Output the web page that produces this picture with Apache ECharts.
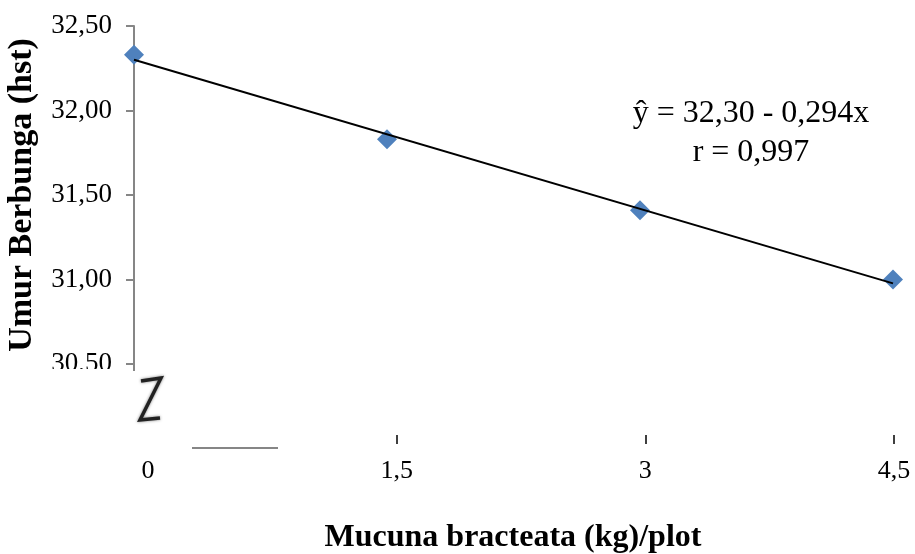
<!DOCTYPE html>
<html>
<head>
<meta charset="utf-8">
<script src="https://cdn.jsdelivr.net/npm/echarts@6/dist/echarts.min.js"></script>
<style>html,body{margin:0;padding:0;background:#fff;}#c{width:915px;height:554px;}</style>
</head>
<body>
<div id="c"></div>
<script>
const doses = [0, 1.5, 3, 4.5];
const flowering = [32.33, 31.83, 31.41, 31.00];
const trendIntercept = 32.30;
const trendSlope = -0.294;
const yTicks = [30.5, 31.0, 31.5, 32.0, 32.5];
const xTickLabels = ['0', '1,5', '3', '4,5'];
const equationText = 'ŷ = 32,30 - 0,294x\nr = 0,997';
const xTitle = 'Mucuna bracteata (kg)/plot';
const yTitle = 'Umur Berbunga (hst)';

const serif = '"Liberation Serif", "Times New Roman", serif';
const trendX = [doses[0], doses[doses.length - 1]];
const trendData = trendX.map(x => [x, trendIntercept + trendSlope * x]);

const chart = echarts.init(document.getElementById('c'), null, {renderer: 'canvas'});
chart.setOption({
  animation: false,
  backgroundColor: '#fff',
  title: [
    {text: xTitle, left: 508, top: 517, textAlign: 'center',
     textStyle: {fontFamily: serif, fontWeight: 'bold', fontSize: 32, color: '#000'}},
    {text: equationText, left: 746, top: 89, textAlign: 'center',
     textStyle: {fontFamily: serif, fontWeight: 'normal', fontSize: 32, lineHeight: 39, color: '#000'}}
  ],
  grid: [
    {left: 134, right: 22, top: 26, bottom: 190, containLabel: false, outerBoundsMode: 'none'},
    {left: 148, right: 21, top: 440, bottom: 110, containLabel: false, outerBoundsMode: 'none'}
  ],
  xAxis: [
    {type: 'value', gridIndex: 0, min: 0, max: 4.5, interval: 1.5, show: false},
    {type: 'value', gridIndex: 1, min: 0, max: 4.5, interval: 1.5,
     axisLine: {show: false},
     axisTick: {show: true, inside: true, length: 9, lineStyle: {color: '#000', width: 1.5}},
     splitLine: {show: false},
     axisLabel: {margin: 14, fontFamily: serif, fontSize: 26, color: '#000',
       formatter: v => xTickLabels[doses.indexOf(v)] !== undefined ? xTickLabels[doses.indexOf(v)] : ''}}
  ],
  yAxis: [
    {type: 'value', gridIndex: 0, min: yTicks[0], max: yTicks[yTicks.length - 1], interval: 0.5,
     name: yTitle, nameLocation: 'middle', nameGap: 95,
     nameTextStyle: {fontFamily: serif, fontWeight: 'bold', fontSize: 34, color: '#000'},
     axisLine: {show: true, lineStyle: {color: '#868686', width: 2}},
     axisTick: {show: true, inside: false, length: 8, lineStyle: {color: '#868686', width: 2}},
     splitLine: {show: false},
     axisLabel: {margin: 22, fontFamily: serif, fontSize: 27, color: '#000',
       formatter: v => v.toFixed(2).replace('.', ',')}},
    {type: 'value', gridIndex: 1, show: false}
  ],
  series: [
    {type: 'scatter', xAxisIndex: 0, yAxisIndex: 0, symbol: 'diamond', symbolSize: 20,
     itemStyle: {color: '#4F81BD', opacity: 1}, clip: false, z: 2,
     data: doses.map((x, i) => [x, flowering[i]])},
    {type: 'line', xAxisIndex: 0, yAxisIndex: 0, data: trendData, showSymbol: false,
     symbol: 'none', lineStyle: {color: '#000', width: 2}, clip: false, z: 3}
  ],
  graphic: [
    {type: 'line', shape: {x1: 134, y1: 363, x2: 134, y2: 371},
     style: {stroke: '#868686', lineWidth: 2}, z: 99},
    {type: 'rect', shape: {x: 40, y: 369, width: 92, height: 12}, style: {fill: '#fff'}, z: 100},
    {type: 'rect', shape: {x: 128, y: 372, width: 48, height: 74}, style: {fill: '#fff'}, z: 100},
    {type: 'polyline', shape: {points: [[141, 381], [161, 378], [140, 420], [160, 418]]},
     style: {stroke: '#222', lineWidth: 3.5, fill: null, shadowBlur: 3, shadowColor: 'rgba(0,0,0,0.5)'}, z: 101},
    {type: 'line', shape: {x1: 192, y1: 448, x2: 278, y2: 448},
     style: {stroke: '#868686', lineWidth: 2}, z: 100}
  ]
});
</script>
</body>
</html>
